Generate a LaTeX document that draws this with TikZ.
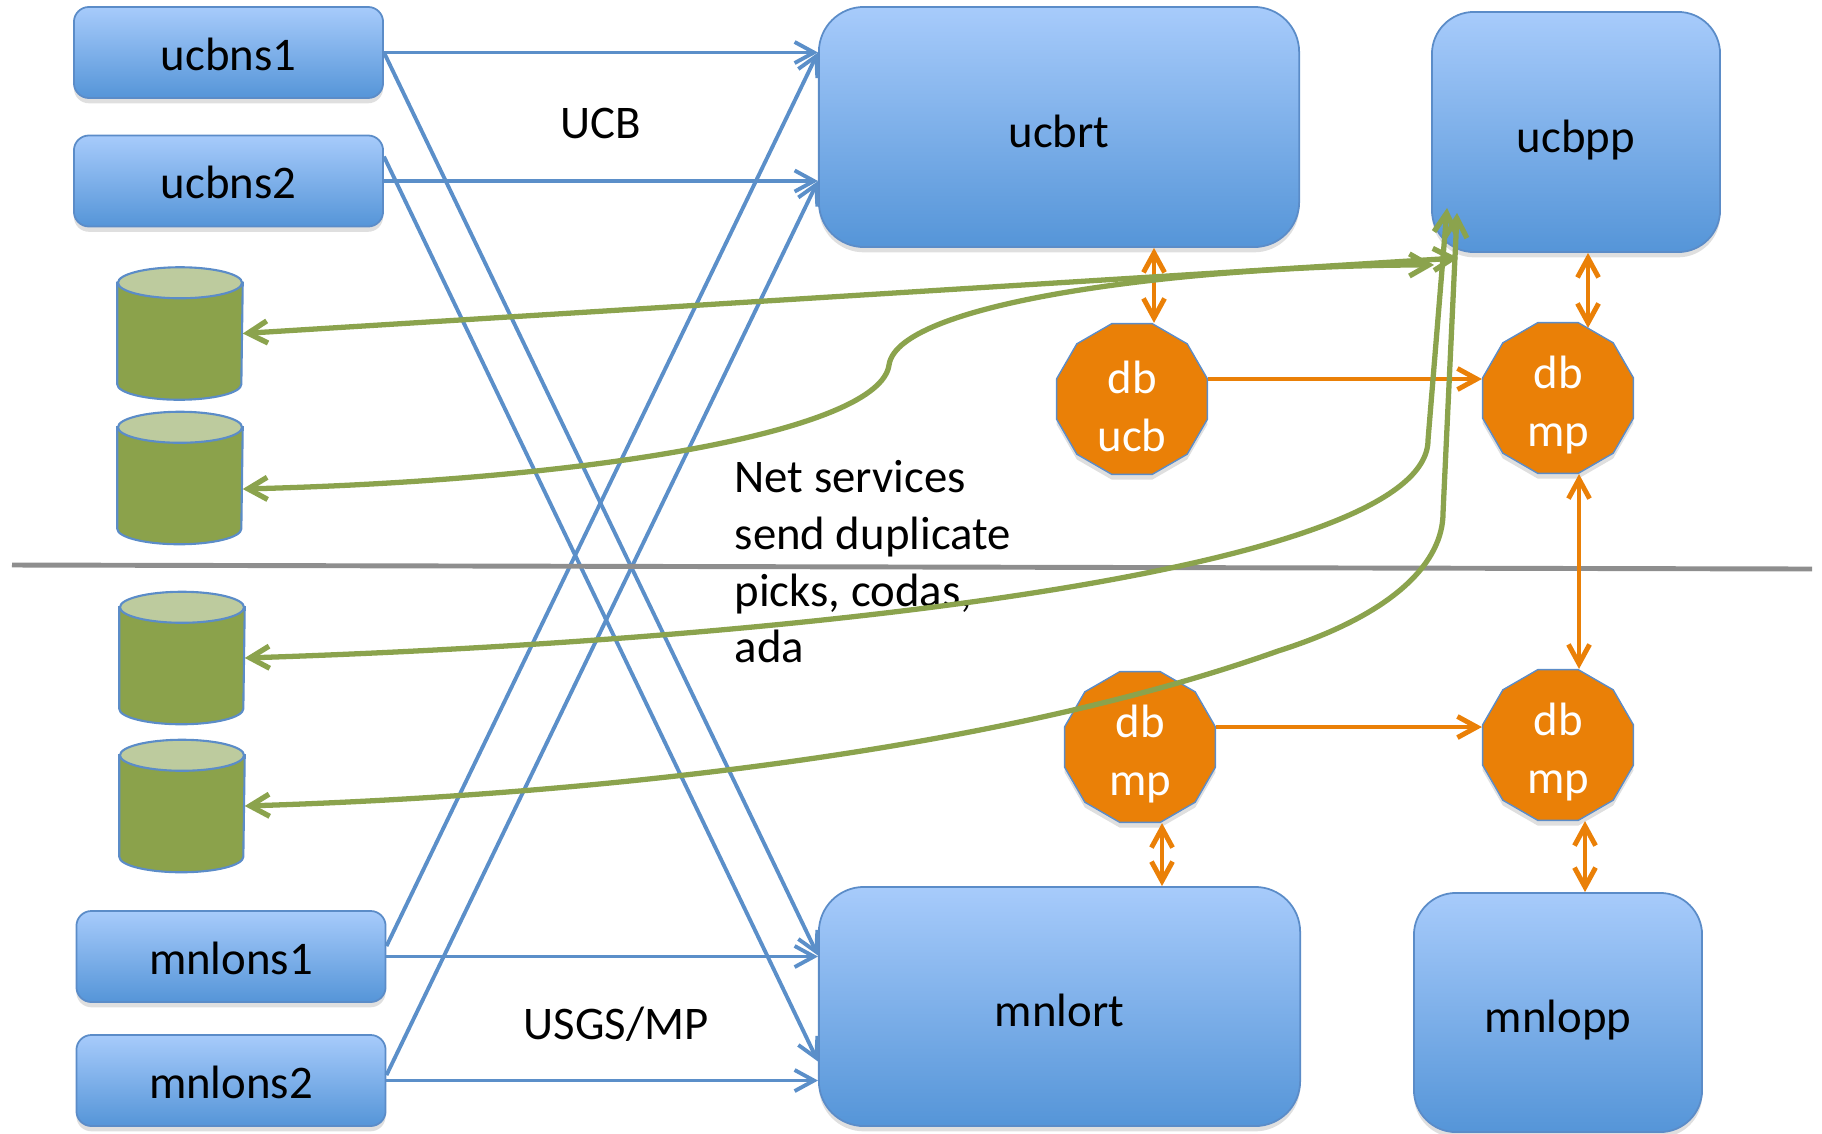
\documentclass[tikz,border=0pt]{standalone}
\usepackage{fontspec}
\setmainfont{Carlito}
\usetikzlibrary{arrows.meta,calc,shapes.geometric,shadows}
\definecolor{boxtop}{HTML}{A7CBFB}
\definecolor{boxbot}{HTML}{5595D8}
\definecolor{boxedge}{HTML}{5B8CC8}
\definecolor{feedblue}{HTML}{5B8FC9}
\definecolor{diskbody}{HTML}{8BA24B}
\definecolor{disktop}{HTML}{BDCB9E}
\definecolor{dborange}{HTML}{EA8007}
\definecolor{dupgreen}{HTML}{8BA34D}
\definecolor{sepgray}{HTML}{8E8E8E}
\tikzset{
  sysbox/.style={draw=boxedge, line width=0.5pt, top color=boxtop, bottom color=boxbot,
    inner sep=0pt, font=\fontsize{13.3}{16}\selectfont, text depth=0pt,
    drop shadow={shadow xshift=0pt, shadow yshift=-1.5pt, opacity=0.25}},
  smallbox/.style={sysbox, rounded corners=0.15cm, minimum width=3.09cm, minimum height=0.91cm,
    text height=10.2pt},
  bigbox/.style={sysbox, rounded corners=0.45cm, text height=11.4pt},
  disk/.style={rectangle, inner sep=0pt, minimum width=1.24cm, minimum height=1.31cm},
  diskline/.style={draw=boxedge, line width=0.6pt},
  dbtext/.style={inner sep=0pt, text=white, align=center, yshift=-2pt,
    font=\fontsize{13.3}{16.5}\selectfont},
  dbnode/.style={regular polygon, regular polygon sides=12, minimum size=1.56cm, inner sep=0pt,
    fill=dborange, draw=boxedge, line width=0.4pt, label={[dbtext]center:{#1}},
    drop shadow={shadow xshift=0pt, shadow yshift=-1.5pt, opacity=0.25}},
  tag/.style={inner sep=0pt, font=\fontsize{13.3}{16.1}\selectfont, align=left},
  feed/.style={draw=feedblue, line width=1.1pt, -{Straight Barb[length=5.5pt,width=6pt]}},
  dup/.style={draw=dborange, line width=1.4pt, {Straight Barb[length=5.5pt,width=6pt]}-{Straight Barb[length=5.5pt,width=6pt]}},
  dupto/.style={draw=dborange, line width=1.4pt, -{Straight Barb[length=5.5pt,width=6pt]}},
  pickfeed/.style={draw=dupgreen, line width=1.5pt, {Straight Barb[length=5.5pt,width=6.3pt]}-{Straight Barb[length=5.5pt,width=6.3pt]}}
}
\begin{document}
\begin{tikzpicture}[x=0.01cm, y=-0.01cm]
\useasboundingbox (0,0) rectangle (1822,1133);

\node[smallbox] (ucbns1) at (228.5,52.5) {ucbns1};
\node[smallbox] (ucbns2) at (228.5,181) {ucbns2};
\node[smallbox] (mnlons1) at (231,956.5) {mnlons1};
\node[smallbox] (mnlons2) at (231,1080.5) {mnlons2};

\node[bigbox, minimum width=4.8cm, minimum height=2.4cm] (ucbrt) at (1059,127) {ucbrt};
\node[bigbox, minimum width=4.81cm, minimum height=2.39cm] (mnlort) at (1059.5,1006.5) {mnlort};
\node[bigbox, rounded corners=0.42cm, minimum width=2.88cm, minimum height=2.4cm] (ucbpp) at (1576,132) {ucbpp};
\node[bigbox, rounded corners=0.42cm, minimum width=2.88cm, minimum height=2.39cm] (mnlopp) at (1558,1012.5) {mnlopp};

\node[disk] (disk1) at (180,333.5) {};
\node[disk] (disk2) at (180,478) {};
\node[disk] (disk3) at (182,658) {};
\node[disk] (disk4) at (182,806) {};
\foreach \d in {disk1,disk2,disk3,disk4} {
  \draw[diskline, fill=diskbody] ($(\d.north west)+(0,15.5)$) -- ($(\d.south west)+(0,-15.5)$)
    arc[start angle=180, end angle=360, x radius=0.62cm, y radius=0.155cm]
    -- ($(\d.north east)+(0,15.5)$) -- cycle;
  \draw[diskline, fill=disktop] ($(\d.north)+(0,15.5)$) ellipse[x radius=0.62cm, y radius=0.155cm];
}

\node[dbnode={db\\ucb}] (dbucb) at (1132,399) {};
\node[dbnode={db\\mp}] (dbmpa) at (1558,398) {};
\node[dbnode={db\\mp}] (dbmpb) at (1140,747) {};
\node[dbnode={db\\mp}] (dbmpc) at (1558,745) {};

\node[tag] (ucblabel) at (601,123) {UCB};
\node[tag] (mplabel) at (616,1024) {USGS/MP};
\node[tag, anchor=north west] (netnote) at (734,460) {Net services\\send duplicate\\picks, codas,\\ada};

\draw[feed] (ucbns1.east) -- (ucbns1.east -| ucbrt.west);
\draw[feed] (ucbns2.east) -- (ucbns2.east -| ucbrt.west);
\draw[feed] (mnlons1.east) -- (mnlons1.east -| mnlort.west);
\draw[feed] (mnlons2.east) -- (mnlons2.east -| mnlort.west);
\draw[feed] (ucbns1.east) -- ($(mnlort.west)+(0,-51)$);
\draw[feed] ($(ucbns2.north east)+(0,22)$) -- ($(mnlort.west)+(0,55)$);
\draw[feed] ($(mnlons1.north east)+(0,36)$) -- (ucbns1.east -| ucbrt.west);
\draw[feed] ($(mnlons2.north east)+(0,41)$) -- (ucbns2.east -| ucbrt.west);

\coordinate (sepleft) at (12,565);
\coordinate (sepright) at (1812,569);
\draw[sepgray, line width=1.4pt] (sepleft) -- (sepright);

\coordinate (ucbup) at ($(dbucb.north)+(22,0)$);
\coordinate (ucbside) at ($(dbucb.east)+(0,-20)$);
\coordinate (mpaup) at ($(dbmpa.north)+(30,6)$);
\coordinate (mpadown) at ($(dbmpa.south)+(21,0)$);
\coordinate (mpbside) at ($(dbmpb.east)+(0,-20)$);
\coordinate (mpbdown) at ($(dbmpb.south)+(22,0)$);
\coordinate (mpcdown) at ($(dbmpc.south)+(27,0)$);
\draw[dup] (ucbup) -- (ucbup |- ucbrt.south);
\draw[dup] (mpaup) -- (mpaup |- ucbpp.south);
\draw[dupto] (ucbside) -- (ucbside -| dbmpa.west);
\draw[dup] (mpadown) -- (mpadown |- dbmpc.north);
\draw[dupto] (mpbside) -- (mpbside -| dbmpc.west);
\draw[dup] (mpbdown) -- (mpbdown |- mnlort.north);
\draw[dup] (mpcdown) -- (mpcdown |- mnlopp.north);

\draw[pickfeed] (disk1.east) -- ($(ucbpp.south west)+(27,5)$);
\draw[pickfeed] ($(disk2.east)+(0,11)$) .. controls (600,480) and (880,430) .. (889,365)
  .. controls (898,300) and (1200,265) .. ($(ucbpp.south west)+(3,12)$);
\draw[pickfeed] (disk3.east) .. controls (800,640) and (1428,570) .. (1428,440)
  -- ($(ucbpp.south west)+(16,-45)$);
\draw[pickfeed] (disk4.east) .. controls (600,795) and (1000,750) .. (1278,651)
  .. controls (1398,613) and (1443,560) .. (1443,513)
  -- ($(ucbpp.south west)+(26,-40)$);
\end{tikzpicture}
\end{document}
